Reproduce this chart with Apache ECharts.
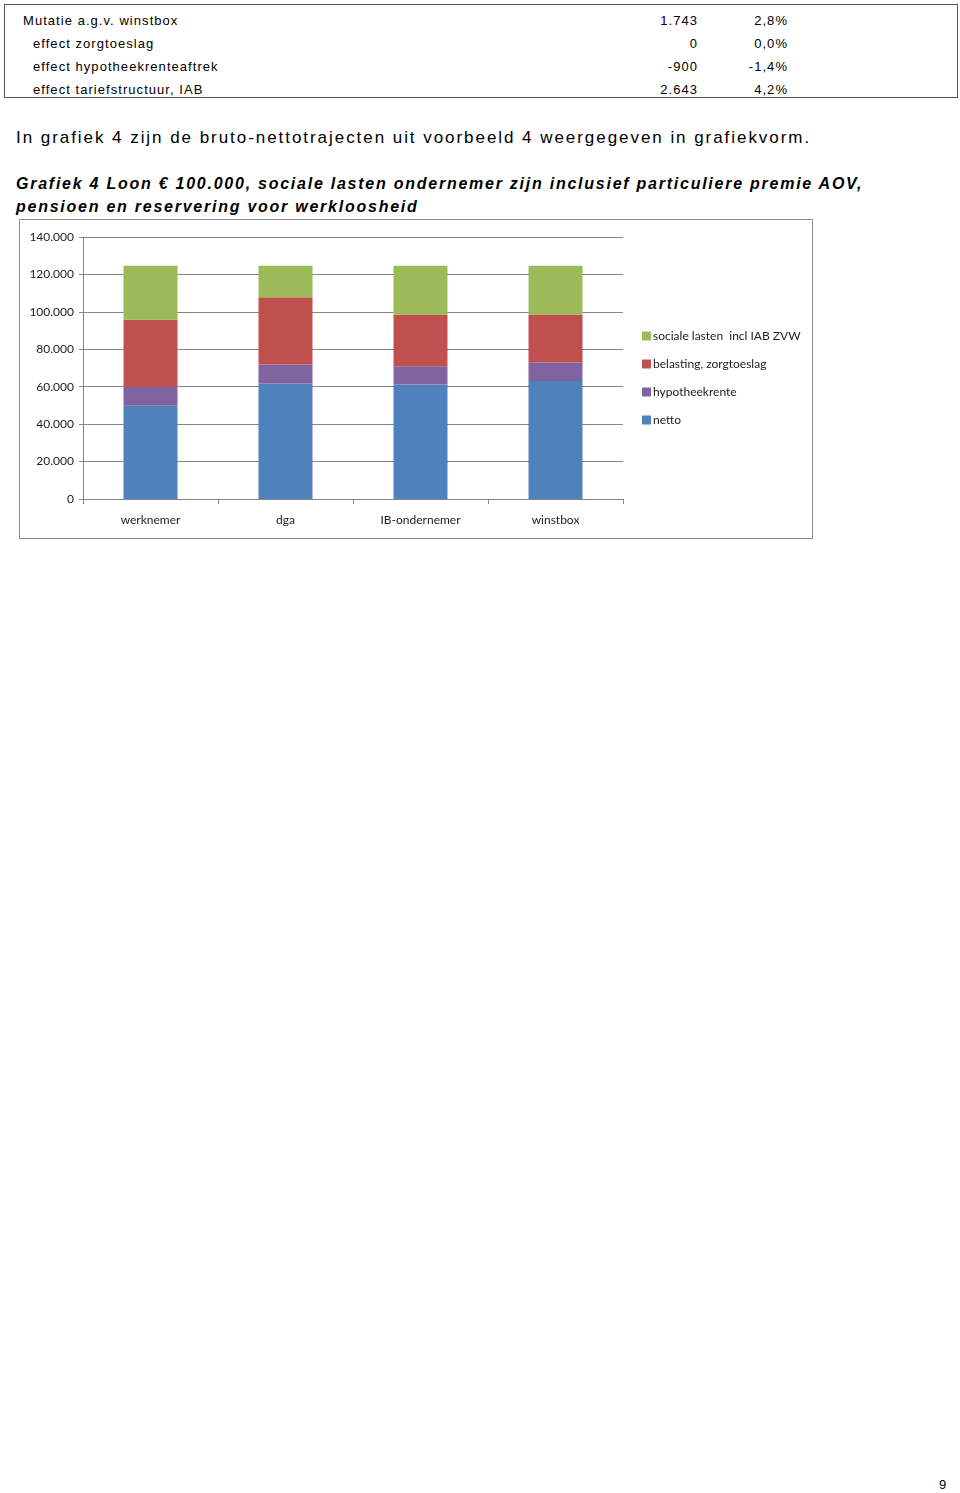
<!DOCTYPE html>
<html>
<head>
<meta charset="utf-8">
<script src="https://cdn.jsdelivr.net/npm/echarts@6/dist/echarts.min.js"></script>
<style>
  html, body { margin: 0; padding: 0; background: #fff; }
  body { width: 960px; height: 1493px; position: relative; font-family: "Liberation Sans", Arial, sans-serif; color: #000; }
  #tbl { position: absolute; left: 4px; top: 4px; width: 952px; height: 92px; border: 1px solid #555; }
  .row { position: absolute; left: 0; width: 952px; font-size: 13px; letter-spacing: 1.05px; line-height: 16px; }
  .row .lab { position: absolute; }
  .row .v1 { position: absolute; right: 259px; text-align: right; }
  .row .v2 { position: absolute; right: 169px; text-align: right; }
  #para { position: absolute; left: 16px; top: 128px; font-size: 17px; letter-spacing: 1.95px; white-space: nowrap; }
  #cap { position: absolute; left: 16px; top: 172px; font-size: 16px; font-weight: bold; font-style: italic; letter-spacing: 1.75px; line-height: 23px; white-space: nowrap; }
  #chart { position: absolute; left: 19px; top: 219px; width: 792px; height: 318px; border: 1px solid #8c8c8c; }
  #pg { position: absolute; left: 939px; top: 1477px; font-size: 13px; }
</style>
</head>
<body>
<div id="tbl"></div>
<div id="para">In grafiek 4 zijn de bruto-nettotrajecten uit voorbeeld 4 weergegeven in grafiekvorm.</div>
<div id="cap">Grafiek 4 Loon € 100.000, sociale lasten ondernemer zijn inclusief particuliere premie AOV,<br>pensioen en reservering voor werkloosheid</div>
<div id="chart"></div>
<div id="pg">9</div>
<script>
// Table rows
const tableLabels = ["Mutatie a.g.v. winstbox", "effect zorgtoeslag", "effect hypotheekrenteaftrek", "effect tariefstructuur, IAB"];
const tableValues = ["1.743", "0", "-900", "2.643"];
const tablePercents = ["2,8%", "0,0%", "-1,4%", "4,2%"];

// Chart data
const categories = ["werknemer", "dga", "IB-ondernemer", "winstbox"];
const netto = [49800, 61700, 61200, 63000];
const hypotheekrente = [10200, 10200, 9800, 10000];
const belasting = [35900, 35900, 27600, 25600];
const socialeLasten = [28800, 16900, 26100, 26100];
const seriesNames = ["netto", "hypotheekrente", "belasting, zorgtoeslag", "sociale lasten  incl IAB ZVW"];
const yTicks = [0, 20000, 40000, 60000, 80000, 100000, 120000, 140000];

// Build table
const tbl = document.getElementById('tbl');
tableLabels.forEach((l, i) => {
  const r = document.createElement('div');
  r.className = 'row';
  r.style.top = (8 + i * 23) + 'px';
  r.innerHTML = '<span class="lab" style="left:' + (i === 0 ? 18 : 28) + 'px">' + l + '</span>' +
    '<span class="v1">' + tableValues[i] + '</span><span class="v2">' + tablePercents[i] + '</span>';
  tbl.appendChild(r);
});

const fmt = v => v === 0 ? '0' : v.toLocaleString('de-DE');
const chart = echarts.init(document.getElementById('chart'), null, { renderer: 'canvas' });
const colors = ["#4f81bd", "#8064a2", "#c0504d", "#9bbb59"];
const dataSets = [netto, hypotheekrente, belasting, socialeLasten];
chart.setOption({
  animation: false,
  textStyle: { fontFamily: "Lato, 'Open Sans', sans-serif" },
  grid: { left: 63, top: 17, width: 540, height: 262 },
  legend: {
    orient: 'vertical', left: 617, top: 105, itemGap: 16,
    itemWidth: 9, itemHeight: 9, icon: 'rect',
    data: seriesNames.slice().reverse(),
    textStyle: { fontSize: 12, color: '#222', fontFamily: "Lato, sans-serif", padding: [0, 0, 0, -3] }
  },
  xAxis: {
    type: 'category', data: categories,
    axisLine: { show: true, lineStyle: { color: '#868686' } },
    axisTick: { show: true, length: 5, alignWithLabel: false, lineStyle: { color: '#868686' } },
    axisLabel: { fontSize: 12, color: '#222', margin: 15 }
  },
  yAxis: {
    type: 'value', min: 0, max: 140000, interval: 20000,
    axisLine: { show: true, lineStyle: { color: '#868686' } },
    axisTick: { show: true, length: 4, lineStyle: { color: '#868686' } },
    splitLine: { lineStyle: { color: '#868686' } },
    axisLabel: { fontSize: 12, color: '#222', margin: 9, formatter: v => fmt(v) }
  },
  series: seriesNames.map((n, i) => ({
    name: n, type: 'bar', stack: 'total', data: dataSets[i],
    barWidth: '40%', itemStyle: { color: colors[i] }
  }))
});
</script>
</body>
</html>
